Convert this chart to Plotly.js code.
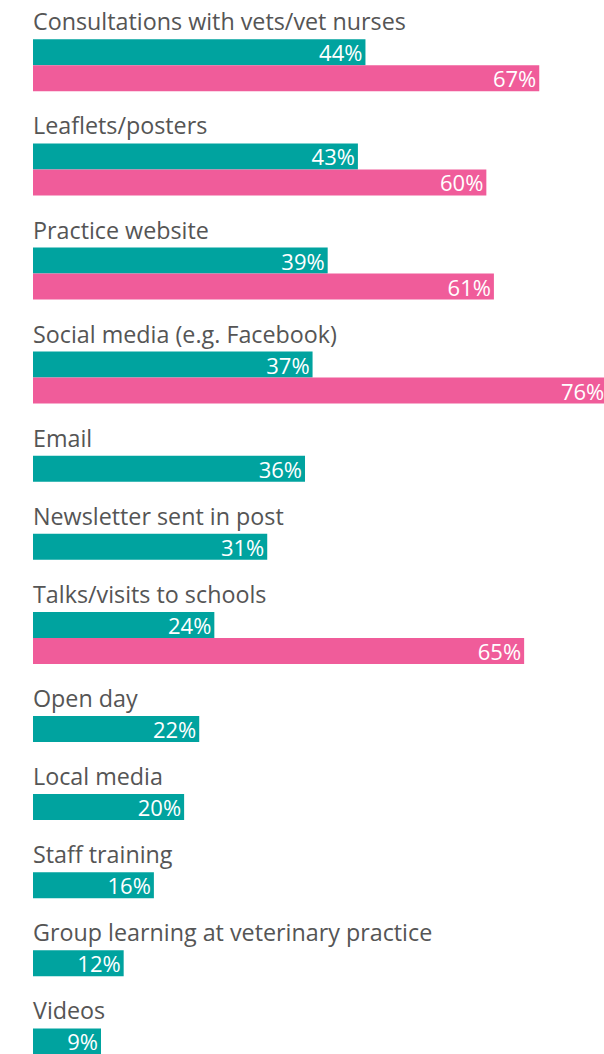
<!DOCTYPE html>
<html>
<head>
<meta charset="utf-8">
<script src="https://cdn.plot.ly/plotly-3.0.1.min.js"></script>
<style>
  html, body { margin: 0; padding: 0; background: #ffffff; overflow: hidden; }
  #chart { width: 604px; height: 1054px; }
</style>
</head>
<body>
<div id="chart"></div>
<script>
const categories = [
  "Consultations with vets/vet nurses",
  "Leaflets/posters",
  "Practice website",
  "Social media (e.g. Facebook)",
  "Email",
  "Newsletter sent in post",
  "Talks/visits to schools",
  "Open day",
  "Local media",
  "Staff training",
  "Group learning at veterinary practice",
  "Videos"
];
const tealValues = [44, 43, 39, 37, 36, 31, 24, 22, 20, 16, 12, 9];
const pinkValues = [67, 60, 61, 76, null, null, 65, null, null, null, null, null];

const TEAL = "#00a39f";
const PINK = "#f05c9a";
const LABEL_COLOR = "#555555";
const FONT = "'Open Sans', sans-serif";

// vertical layout in pixel units (1 y-unit = 1 px)
const BAR_H = 26;
const GROUP_GAP = 52.1;
const FIRST_TOP = 39.3;

const tealY = [], pinkY = [], pinkX = [], labelY = [];
let cursor = FIRST_TOP;
categories.forEach((c, i) => {
  labelY.push(cursor - 18);
  tealY.push(cursor + BAR_H / 2);
  let n = 1;
  if (pinkValues[i] !== null) {
    pinkY.push(cursor + BAR_H * 1.5);
    pinkX.push(pinkValues[i]);
    n = 2;
  }
  cursor += n * BAR_H + GROUP_GAP;
});

const tealTrace = {
  type: "bar", orientation: "h",
  x: tealValues, y: tealY, width: BAR_H,
  marker: { color: TEAL, line: { width: 0 } },
  texttemplate: "%{x}%", textposition: "inside", insidetextanchor: "end",
  constraintext: "none",
  textfont: { color: "#ffffff", size: 22, family: FONT },
  hoverinfo: "skip", showlegend: false, cliponaxis: true
};
const pinkTrace = {
  type: "bar", orientation: "h",
  x: pinkX, y: pinkY, width: BAR_H,
  marker: { color: PINK, line: { width: 0 } },
  texttemplate: "%{x}%", textposition: "inside", insidetextanchor: "end",
  constraintext: "none",
  textfont: { color: "#ffffff", size: 22, family: FONT },
  hoverinfo: "skip", showlegend: false, cliponaxis: true
};

const annotations = categories.map((c, i) => ({
  x: 0, y: labelY[i], xref: "x", yref: "y",
  text: c, showarrow: false, xanchor: "left", yanchor: "middle",
  xshift: -2,
  font: { family: FONT, size: 23.3, color: LABEL_COLOR }
}));

const layout = {
  width: 604, height: 1054,
  margin: { l: 33, r: 0, t: 0, b: 0, pad: 0 },
  paper_bgcolor: "#ffffff", plot_bgcolor: "#ffffff",
  barmode: "overlay",
  xaxis: { range: [0, 75.57], visible: false, fixedrange: true },
  yaxis: { range: [1054, 0], visible: false, fixedrange: true },
  annotations: annotations,
  showlegend: false
};

Plotly.newPlot("chart", [tealTrace, pinkTrace], layout, { staticPlot: true, displayModeBar: false });
</script>
</body>
</html>
